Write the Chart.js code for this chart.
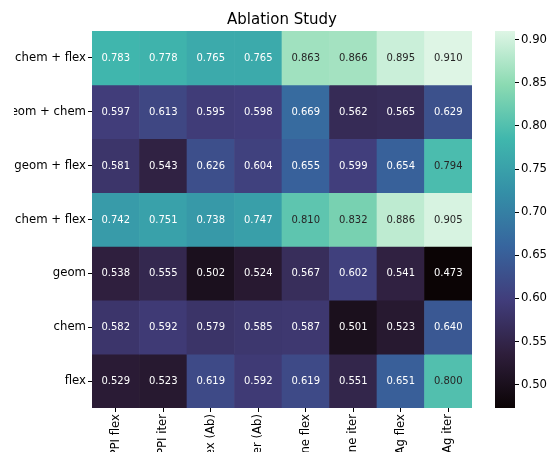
<!DOCTYPE html>
<html>
<head>
<meta charset="utf-8">
<script src="https://cdn.jsdelivr.net/npm/chart.js@4.4.0/dist/chart.umd.min.js"></script>
<style>
  body { margin:0; background:#fff; width:548px; height:452px; overflow:hidden; position:relative; }
  #heat { position:absolute; left:14px; top:0; }
  #cbar { position:absolute; left:480px; top:0; }
</style>
</head>
<body>
<canvas id="heat" width="466" height="452"></canvas>
<canvas id="cbar" width="68" height="452"></canvas>
<script>
// Ablation heatmap (seaborn-style, mako colormap)

const rowLabels = ['geom + chem + flex', 'geom + chem', 'geom + flex', 'chem + flex', 'geom', 'chem', 'flex'];
const colLabels = ['DIPS PPI flex', 'DIPS PPI iter', 'SAbDab flex (Ab)', 'SAbDab iter (Ab)',
                   'Baseline flex', 'Baseline iter', 'Ab-Ag flex', 'Ab-Ag iter'];

const geomChemFlex = [0.783, 0.778, 0.765, 0.765, 0.863, 0.866, 0.895, 0.910];
const geomChem     = [0.597, 0.613, 0.595, 0.598, 0.669, 0.562, 0.565, 0.629];
const geomFlex     = [0.581, 0.543, 0.626, 0.604, 0.655, 0.599, 0.654, 0.794];
const chemFlex     = [0.742, 0.751, 0.738, 0.747, 0.810, 0.832, 0.886, 0.905];
const geomOnly     = [0.538, 0.555, 0.502, 0.524, 0.567, 0.602, 0.541, 0.473];
const chemOnly     = [0.582, 0.592, 0.579, 0.585, 0.587, 0.501, 0.523, 0.640];
const flexOnly     = [0.529, 0.523, 0.619, 0.592, 0.619, 0.551, 0.651, 0.800];

const cbarTicks = [0.50, 0.55, 0.60, 0.65, 0.70, 0.75, 0.80, 0.85, 0.90];

const rows = [geomChemFlex, geomChem, geomFlex, chemFlex, geomOnly, chemOnly, flexOnly];
const allVals = rows.flat();
const vmin = Math.min(...allVals), vmax = Math.max(...allVals);

// mako, sampled
const makoStops = [
  [0.000, '#0b0405'], [0.143, '#2e1e3b'], [0.286, '#413d7b'], [0.429, '#37659e'],
  [0.571, '#348fa7'], [0.714, '#40b7ad'], [0.857, '#8bdab2'], [1.000, '#def5e5']
];
function hexRgb(h){ return [1,3,5].map(i=>parseInt(h.slice(i,i+2),16)); }
function mako(t){
  t = Math.max(0, Math.min(1, t));
  for (let i=1;i<makoStops.length;i++){
    if (t <= makoStops[i][0]) {
      const [t0,c0] = makoStops[i-1], [t1,c1] = makoStops[i];
      const f = (t-t0)/(t1-t0), a = hexRgb(c0), b = hexRgb(c1);
      return a.map((v,k)=>Math.round(v+(b[k]-v)*f));
    }
  }
  return hexRgb(makoStops[makoStops.length-1][1]);
}
const norm = v => (v - vmin) / (vmax - vmin);
const rgbStr = c => `rgb(${c[0]},${c[1]},${c[2]})`;
function lum(c){
  const l = c.map(v=>{ v/=255; return v<=0.03928 ? v/12.92 : Math.pow((v+0.055)/1.055,2.4); });
  return 0.2126*l[0]+0.7152*l[1]+0.0722*l[2];
}

const FONT = 'DejaVu Sans';

const annotate = {
  id: 'annotate',
  afterDatasetsDraw(chart){
    const ctx = chart.ctx;
    ctx.save();
    ctx.font = `10px "${FONT}"`;
    ctx.textAlign = 'center';
    ctx.textBaseline = 'middle';
    chart.data.datasets.forEach((ds, r) => {
      chart.getDatasetMeta(r).data.forEach((el, j) => {
        const v = rows[r][j];
        const p = el.getCenterPoint();
        ctx.fillStyle = lum(mako(norm(v))) > 0.39 ? '#262626' : '#ffffff';
        ctx.fillText(v.toFixed(3), p.x, p.y + 0.5);
      });
    });
    ctx.restore();
  }
};

const centerTitle = {
  id: 'centerTitle',
  afterDraw(chart){
    const a = chart.chartArea, ctx = chart.ctx;
    ctx.save();
    ctx.font = `15px "${FONT}"`;
    ctx.fillStyle = '#000';
    ctx.textAlign = 'center';
    ctx.textBaseline = 'middle';
    ctx.fillText('Ablation Study', (a.left + a.right)/2, 20);
    ctx.restore();
  }
};

new Chart(document.getElementById('heat'), {
  type: 'bar',
  data: {
    labels: colLabels,
    datasets: rows.map((vals, r) => ({
      data: vals.map(() => [r, r + 1]),
      backgroundColor: vals.map(v => rgbStr(mako(norm(v)))),
      borderWidth: 0,
      grouped: false,
      barPercentage: 1,
      categoryPercentage: 1
    }))
  },
  options: {
    responsive: false,
    animation: false,
    layout: { padding: { top: 31, right: 8, left: 0, bottom: 0 } },
    plugins: { legend: { display: false }, tooltip: { enabled: false }, title: { display: false } },
    scales: {
      x: {
        type: 'category',
        offset: true,
        border: { display: false },
        grid: { offset: false, drawOnChartArea: false, drawTicks: true, tickLength: 4, tickColor: '#000', tickWidth: 1 },
        ticks: { autoSkip: false, minRotation: 90, maxRotation: 90, padding: 2, color: '#000', font: { family: FONT, size: 11.7 } },
        afterFit(axis){ axis.height = 44; }
      },
      y: {
        type: 'linear',
        min: 0, max: rowLabels.length,
        reverse: true,
        border: { display: false },
        grid: { drawOnChartArea: false, drawTicks: true, tickLength: 4, tickColor: '#000', tickWidth: 1 },
        afterBuildTicks(axis){ axis.ticks = rowLabels.map((_, i) => ({ value: i + 0.5 })); },
        ticks: { padding: 2, color: '#000', font: { family: FONT, size: 11.7 },
                 callback: v => rowLabels[Math.floor(v)] },
        afterFit(axis){ axis.width = 78; }
      }
    }
  },
  plugins: [annotate, centerTitle]
});

// colorbar
new Chart(document.getElementById('cbar'), {
  type: 'bar',
  data: {
    labels: [''],
    datasets: [{
      data: [[vmin, vmax]],
      backgroundColor(c){
        const ch = c.chart;
        if (!ch.chartArea) return null;
        const ys = ch.scales.y;
        const g = ch.ctx.createLinearGradient(0, ys.getPixelForValue(vmin), 0, ys.getPixelForValue(vmax));
        makoStops.forEach(([t, col]) => g.addColorStop(t, col));
        return g;
      },
      borderWidth: 0,
      barPercentage: 1,
      categoryPercentage: 1
    }]
  },
  options: {
    responsive: false,
    animation: false,
    layout: { padding: { top: 31, bottom: 44, left: 15, right: 0 } },
    plugins: { legend: { display: false }, tooltip: { enabled: false } },
    scales: {
      x: { display: false },
      y: {
        position: 'right',
        min: vmin, max: vmax,
        border: { display: false },
        grid: { drawOnChartArea: false, drawTicks: true, tickLength: 4, tickColor: '#000', tickWidth: 1 },
        afterBuildTicks(axis){ axis.ticks = cbarTicks.map(v => ({ value: v })); },
        ticks: { padding: 2, color: '#000', font: { family: FONT, size: 11.7 }, callback: v => v.toFixed(2) },
        afterFit(axis){ axis.width = 33; }
      }
    }
  }
});
</script>
</body>
</html>
